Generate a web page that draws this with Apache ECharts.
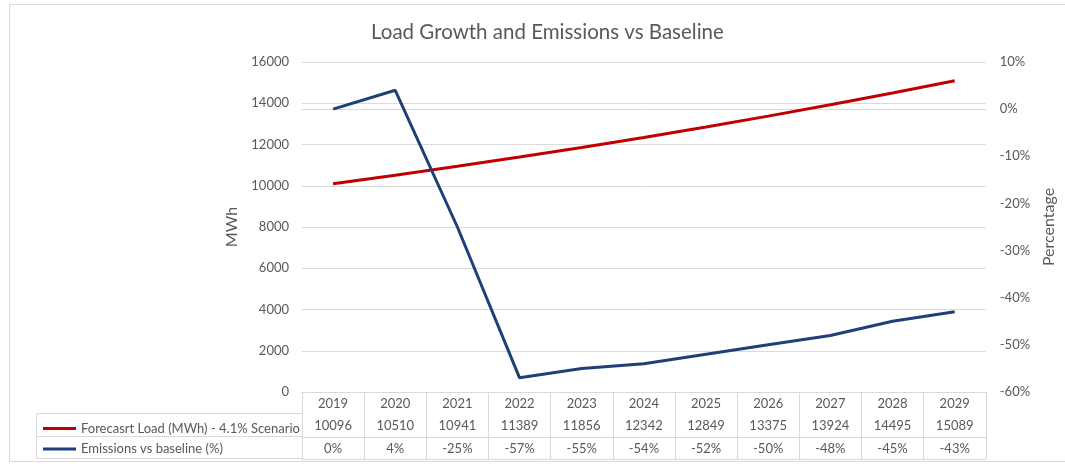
<!DOCTYPE html>
<html>
<head>
<meta charset="utf-8">
<script src="https://cdn.jsdelivr.net/npm/echarts@6/dist/echarts.min.js"></script>
<style>html,body{margin:0;padding:0;background:#fff}#c{width:1065px;height:466px}</style>
</head>
<body>
<div id="c"></div>
<script>
const years = ['2019','2020','2021','2022','2023','2024','2025','2026','2027','2028','2029'];
const loadMWh = [10096, 10510, 10941, 11389, 11856, 12342, 12849, 13375, 13924, 14495, 15089];
const emissionsPct = [0, 4, -25, -57, -55, -54, -52, -50, -48, -45, -43];
const loadName = 'Forecasrt Load (MWh) - 4.1% Scenario';
const emisName = 'Emissions vs baseline (%)';
const titleText = 'Load Growth and Emissions vs Baseline';

const FONT = 'Lato';
const TXT = '#595959';
const GRID = '#d9d9d9';
const chart = echarts.init(document.getElementById('c'));

function tableAxis(offset, labels, showLabel, ticks) {
  return {
    type: 'category', data: labels, position: 'bottom', offset: offset,
    boundaryGap: true,
    axisLine: { show: true, lineStyle: { color: GRID, width: 1 } },
    axisTick: ticks ? { show: true, interval: 0, length: 67, lineStyle: { color: GRID } } : { show: false },
    axisLabel: { show: showLabel, interval: 0, margin: 5, color: TXT, fontFamily: FONT, fontSize: 13 },
    splitLine: { show: false }
  };
}

function legendRow(name, top) {
  return {
    orient: 'horizontal', left: 38, top: top,
    itemWidth: 33, itemHeight: 3, itemGap: 0,
    icon: 'rect',
    textStyle: { color: TXT, fontFamily: FONT, fontSize: 13 },
    data: [name]
  };
}

chart.setOption({
  animation: false,
  backgroundColor: '#fff',
  title: {
    text: titleText, left: 366, top: 17,
    textStyle: { color: TXT, fontFamily: FONT, fontSize: 20.5, fontWeight: 'normal' }
  },
  grid: { left: 302, right: 75, top: 62, bottom: 74 },
  legend: [legendRow(loadName, 417), legendRow(emisName, 437.5)],
  xAxis: [
    tableAxis(0, years, true, true),
    tableAxis(22, loadMWh.map(String), true, false),
    tableAxis(45, emissionsPct.map(v => v + '%'), true, false),
    tableAxis(67, years.map(() => ''), false, false)
  ],
  yAxis: [
    {
      type: 'value', min: 0, max: 16000, interval: 2000, position: 'left',
      name: 'MWh', nameLocation: 'middle', nameGap: 62,
      nameTextStyle: { color: TXT, fontFamily: FONT, fontSize: 16 },
      axisLine: { show: false }, axisTick: { show: false },
      axisLabel: { color: TXT, fontFamily: FONT, fontSize: 13, margin: 13, formatter: v => String(v) },
      splitLine: { show: true, lineStyle: { color: GRID, width: 1 } }
    },
    {
      type: 'value', min: -60, max: 10, interval: 10, position: 'right',
      name: 'Percentage', nameLocation: 'middle', nameGap: 50,
      nameTextStyle: { color: TXT, fontFamily: FONT, fontSize: 16 },
      axisLine: { show: false }, axisTick: { show: false },
      axisLabel: { color: TXT, fontFamily: FONT, fontSize: 13, margin: 14, formatter: '{value}%' },
      splitLine: { show: false }
    }
  ],
  series: [
    {
      name: loadName, type: 'line', data: loadMWh, xAxisIndex: 0, yAxisIndex: 0,
      symbol: 'none', lineStyle: { color: '#c00000', width: 3 }, itemStyle: { color: '#c00000' }
    },
    {
      name: emisName, type: 'line', data: emissionsPct, xAxisIndex: 0, yAxisIndex: 1,
      symbol: 'none', lineStyle: { color: '#203f76', width: 3 }, itemStyle: { color: '#203f76' }
    }
  ],
  graphic: [
    { type: 'rect', shape: { x: 9.5, y: 4.5, width: 1070, height: 457 }, style: { fill: 'none', stroke: '#d9d9d9', lineWidth: 1 }, silent: true },
    { type: 'line', shape: { x1: 36, y1: 413.5, x2: 302, y2: 413.5 }, style: { stroke: GRID, lineWidth: 1 } },
    { type: 'line', shape: { x1: 36, y1: 436.5, x2: 302, y2: 436.5 }, style: { stroke: GRID, lineWidth: 1 } },
    { type: 'line', shape: { x1: 36, y1: 458.5, x2: 302, y2: 458.5 }, style: { stroke: GRID, lineWidth: 1 } },
    { type: 'line', shape: { x1: 36.5, y1: 413, x2: 36.5, y2: 459 }, style: { stroke: GRID, lineWidth: 1 } }
  ]
});
</script>
</body>
</html>
